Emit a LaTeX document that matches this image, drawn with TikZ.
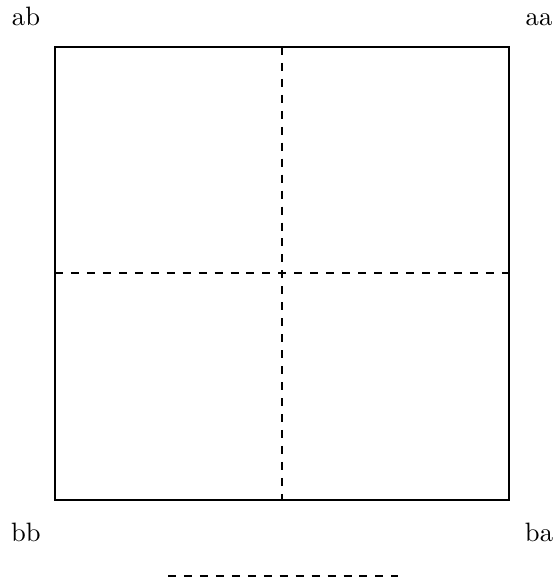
\documentclass[tikz,border=0pt]{standalone}
\begin{document}
\begin{tikzpicture}[x=0.376pt,y=-0.376pt,
  lbl/.style={inner sep=0pt,anchor=base},
  divider/.style={dashed}]
\useasboundingbox (0,0) rectangle (556,583);
\draw (55,47) rectangle (509,500);
\coordinate (top) at (282,47);
\coordinate (bot) at (282,500);
\coordinate (lft) at (55,273);
\coordinate (rgt) at (509,273);
\draw[divider] (top) -- (bot);
\draw[divider] (lft) -- (rgt);
\node[lbl] (ab) at (26,26) {ab};
\node[lbl] (aa) at (539,26) {aa};
\node[lbl] (bb) at (26,541) {bb};
\node[lbl] (ba) at (539,541) {ba};
\coordinate (l1) at (168,576);
\coordinate (l2) at (398,576);
\draw[divider] (l1) -- (l2);
\end{tikzpicture}
\end{document}
